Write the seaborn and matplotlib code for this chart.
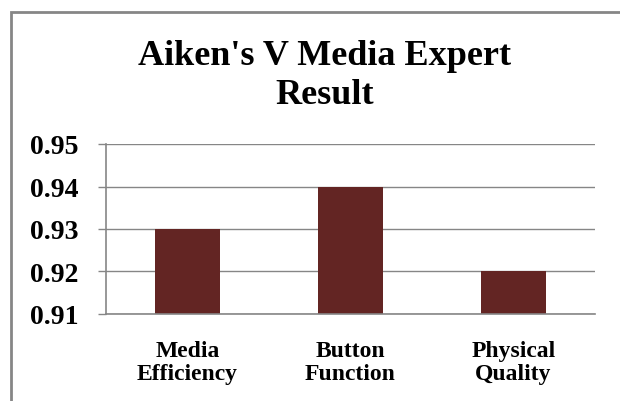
import matplotlib
matplotlib.use("Agg")
import matplotlib.pyplot as plt
import seaborn as sns
import pandas as pd
from matplotlib.patches import Rectangle
from matplotlib.ticker import FixedLocator

categories = ["Media\nEfficiency", "Button\nFunction", "Physical\nQuality"]
values = [0.93, 0.94, 0.92]
yticks = [0.91, 0.92, 0.93, 0.94, 0.95]
ytick_labels = ["0.91", "0.92", "0.93", "0.94", "0.95"]
title = "Aiken's V Media Expert\nResult"

sns.set_style("white")
plt.rcParams['font.family'] = ['Liberation Serif', 'DejaVu Serif']
plt.rcParams['text.color'] = 'black'
plt.rcParams['xtick.labelcolor'] = 'black'
plt.rcParams['ytick.labelcolor'] = 'black'

df = pd.DataFrame({"cat": categories, "val": values})

fig = plt.figure(figsize=(6.2, 4.02), dpi=100)
ax = fig.add_axes([106/620, 1-315/402, (595-106)/620, (315-145)/402])

sns.barplot(data=df, x="cat", y="val", color="#632523", width=0.4,
            saturation=1, ax=ax, edgecolor="none")

ax.set_ylim(0.91, 0.95)
ax.set_xlim(-0.5, 2.5)
ax.set_yticks(yticks)
ax.set_yticklabels(ytick_labels, fontsize=20, fontweight="bold", color="black")
ax.set_xlabel("")
ax.set_ylabel("")
ax.tick_params(axis="x", which="major", length=0, labelsize=17, pad=19,
               labelcolor="black")
for lab in ax.get_xticklabels():
    lab.set_fontweight("bold")
    lab.set_linespacing(1.1)
ax.xaxis.set_minor_locator(FixedLocator([-0.5, 0.5, 1.5, 2.5]))
ax.tick_params(axis="x", which="minor", length=6, color="#868686", width=1)
ax.tick_params(axis="y", which="major", length=6, color="#868686", width=1, pad=14,
               labelcolor="black")
ax.tick_params(axis="y", left=True)

ax.grid(axis="y", color="#868686", linewidth=1)
ax.set_axisbelow(True)
for s in ["top", "right"]:
    ax.spines[s].set_visible(False)
for s in ["left", "bottom"]:
    ax.spines[s].set_color("#868686")
    ax.spines[s].set_linewidth(1.2)

fig.text(325/620, 1-76/402, title, ha="center", va="center", fontsize=26,
         fontweight="bold", linespacing=1.25, color="black")

fig.patches.append(Rectangle((11/620, -0.1), 1.2, 1-13/402+0.1,
                             transform=fig.transFigure, fill=False,
                             edgecolor="#868686", linewidth=2))

fig.savefig("out.png", dpi=100)
